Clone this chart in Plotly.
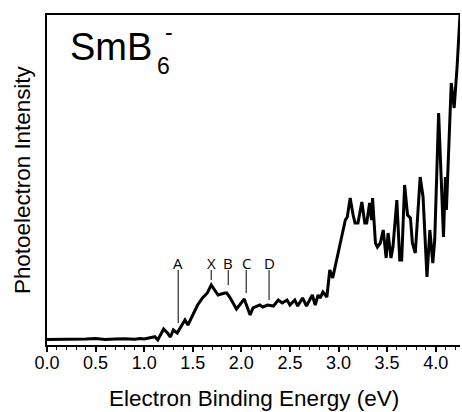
import plotly.graph_objects as go

# Spectrum (binding energy in eV, intensity in arbitrary units)
energy = [0.00, 0.10, 0.20, 0.30, 0.40, 0.50, 0.60, 0.70, 0.80, 0.90, 0.96, 1.00, 1.05,
          1.11, 1.14, 1.20, 1.24, 1.27, 1.30, 1.34, 1.37, 1.42, 1.45, 1.50, 1.55, 1.60,
          1.65, 1.69, 1.76, 1.83, 1.85, 1.88, 1.95, 2.03, 2.09, 2.12, 2.19, 2.22, 2.27,
          2.33, 2.38, 2.42, 2.47, 2.50, 2.55, 2.58, 2.63, 2.67, 2.73, 2.76, 2.79, 2.81,
          2.84, 2.88, 2.91, 2.94, 2.99, 3.03, 3.07, 3.09, 3.12, 3.15, 3.17, 3.20, 3.24,
          3.27, 3.29, 3.32, 3.34, 3.35, 3.38, 3.40, 3.43, 3.46, 3.49, 3.51, 3.54, 3.56,
          3.60, 3.63, 3.65, 3.68, 3.71, 3.74, 3.76, 3.79, 3.84, 3.87, 3.91, 3.94, 3.97,
          3.99, 4.03, 4.08, 4.10, 4.11, 4.16, 4.19, 4.22, 4.25, 4.27]
intensity = [5.5, 5.5, 5.8, 5.5, 6.0, 6.5, 5.5, 6.0, 6.3, 5.8, 6.5, 6.0, 7.0,
             8.3, 5.0, 16, 12, 8, 15, 12, 17, 25, 20, 30, 40, 47,
             52, 60, 50, 52, 52, 48, 36, 46, 30, 37, 40, 38, 40,
             39, 45, 42, 45, 40, 45, 39, 47, 39, 50, 40, 50, 47,
             53, 48, 75, 67, 90, 105, 125, 128, 147, 130, 122, 122, 143,
             122, 122, 142, 125, 147, 102, 98, 102, 115, 87, 112, 87, 98,
             145, 85, 85, 160, 130, 127, 102, 92, 168, 148, 68, 115, 82,
             105, 232, 108, 168, 135, 262, 237, 278, 330, 360]

# Peak labels
peak_labels = ["A", "X", "B", "C", "D"]
peak_energy = [1.35, 1.69, 1.865, 2.05, 2.285]
peak_line_bottom = [22, 65, 60, 52, 45]
peak_line_top = 75
peak_text_y = 82

x_ticks = [0.0, 0.5, 1.0, 1.5, 2.0, 2.5, 3.0, 3.5, 4.0]

FONT = "Liberation Sans, Arial, sans-serif"

fig = go.Figure()
fig.add_trace(go.Scatter(x=energy, y=intensity, mode="lines",
                         line=dict(color="black", width=3), showlegend=False,
                         hoverinfo="skip"))
# invisible helper trace so the second x-axis (major tick marks) is drawn
fig.add_trace(go.Scatter(x=[0, 4.25], y=[None, None], xaxis="x2", mode="lines",
                         showlegend=False, hoverinfo="skip"))

for lab, e, yb in zip(peak_labels, peak_energy, peak_line_bottom):
    fig.add_shape(type="line", xref="x", yref="y", x0=e, x1=e, y0=yb, y1=peak_line_top,
                  line=dict(color="black", width=1))
    fig.add_annotation(x=e, y=peak_text_y, xref="x", yref="y", text=lab, showarrow=False,
                       font=dict(family="Open Sans", size=15, color="black"),
                       xanchor="center", yanchor="middle")

fig.add_annotation(x=0.0515, y=0.903, xref="paper", yref="paper", text="SmB",
                   showarrow=False, xanchor="left", yanchor="middle",
                   font=dict(family=FONT, size=38, color="black"))
fig.add_annotation(x=0.262, y=0.844, xref="paper", yref="paper", text="6",
                   showarrow=False, xanchor="left", yanchor="middle",
                   font=dict(family=FONT, size=23, color="black"))
fig.add_annotation(x=0.296, y=0.948, xref="paper", yref="paper", text="-",
                   showarrow=False, xanchor="center", yanchor="middle",
                   font=dict(family=FONT, size=23, color="black"))

fig.add_annotation(x=0.5, y=-0.1636, xref="paper", yref="paper",
                   text="Electron Binding Energy (eV)", showarrow=False,
                   xanchor="center", yanchor="middle",
                   font=dict(family=FONT, size=22.5, color="black"))
fig.add_annotation(x=-0.0605, y=0.5, xref="paper", yref="paper",
                   text="Photoelectron Intensity", showarrow=False, textangle=-90,
                   xanchor="center", yanchor="middle",
                   font=dict(family=FONT, size=22.4, color="black"))

fig.update_layout(
    width=462, height=412,
    margin=dict(l=47, r=2, t=15, b=67),
    paper_bgcolor="white", plot_bgcolor="white",
    font=dict(family=FONT, color="black"),
    xaxis=dict(range=[0, 4.25], tickvals=x_ticks, tickformat=".1f",
               ticks="",
               minor=dict(dtick=0.1, ticks="outside", ticklen=3, tickwidth=1,
                          tickcolor="black", showgrid=False),
               showline=True, linecolor="black", linewidth=2, mirror=True,
               showgrid=False, zeroline=False,
               tickfont=dict(family=FONT, size=18, color="black")),
    xaxis2=dict(range=[0, 4.25], overlaying="x", anchor="y", side="bottom",
                tickvals=x_ticks, showticklabels=False, ticks="outside", ticklen=6,
                tickwidth=1.5, tickcolor="black", showgrid=False, zeroline=False,
                showline=False),
    yaxis=dict(range=[0, 330], showticklabels=False, ticks="", showgrid=False,
               zeroline=False, showline=True, linecolor="black", linewidth=2),
)

fig.write_html("out.html", config={"displayModeBar": False},
               post_script="document.body.style.margin='0';document.body.style.overflow='hidden';")
